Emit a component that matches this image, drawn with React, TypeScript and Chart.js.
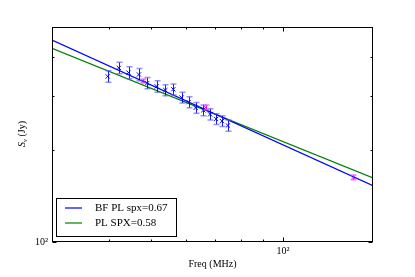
import React, { useEffect, useRef } from 'react';
import { Chart, registerables } from 'chart.js';
Chart.register(...registerables);

// ---- data ----
const blueFreq = [39.7, 42.1, 44.3, 46.8, 48.9, 51.4, 53.8, 56.1, 58.6, 60.8, 63.1, 65.7, 68.1, 70.3, 72.5, 74.8];
const blueFlux = [347, 370, 357, 352, 330, 322, 313, 315, 296, 286, 274, 269, 261, 252, 248, 240];
const blueErr = [15, 16, 16, 16, 14, 14, 13, 13, 12, 12, 11, 11, 11, 10, 10, 10];
const magFreq = [47.9, 66.5, 144.8];
const magFlux = [335, 275, 162.5];
const magErr = [5, 5, 3];
const bfLineFreq = [29.6, 160.7];
const bfLineFlux = [456, 152.6];
const plLineFreq = [29.6, 160.7];
const plLineFlux = [428.3, 161.8];
const xMinorTicks = [40, 50, 60, 70, 80, 90];
const xMajorTicks = [100];
const yMinorTicks = [200, 300, 400];
const yMajorTicks = [100];
const xRange = [29.6, 160.7];
const yRange = [100, 503];
const legendLabels = ['BF PL spx=0.67', 'PL SPX=0.58'];

const SERIF = '"Liberation Serif", "Times New Roman", serif';

const zip = (xs: number[], ys: number[]) => xs.map((x, i) => ({ x, y: ys[i] }));

const framePlugin = {
  id: 'frameTicks',
  afterDatasetsDraw(chart: any) {
    const { ctx, chartArea: a, scales } = chart;
    const xs = scales.x, ys = scales.y;
    ctx.save();
    // error bars
    const drawErr = (fx: number[], fy: number[], fe: number[], line: string, cap: string) => {
      fx.forEach((f, i) => {
        const px = Math.round(xs.getPixelForValue(f)) + 0.5;
        const top = ys.getPixelForValue(fy[i] + fe[i]);
        const bot = ys.getPixelForValue(fy[i] - fe[i]);
        ctx.strokeStyle = line;
        ctx.lineWidth = 1;
        ctx.beginPath();
        ctx.moveTo(px, top);
        ctx.lineTo(px, bot);
        ctx.stroke();
        ctx.strokeStyle = cap;
        ctx.lineWidth = 1.5;
        ctx.beginPath();
        ctx.moveTo(px - 3, top);
        ctx.lineTo(px + 3, top);
        ctx.moveTo(px - 3, bot);
        ctx.lineTo(px + 3, bot);
        ctx.stroke();
      });
    };
    drawErr(blueFreq, blueFlux, blueErr, 'rgba(0,0,230,0.9)', 'rgba(90,90,255,0.65)');
    drawErr(magFreq, magFlux, magErr, 'rgba(230,0,230,0.9)', 'rgba(240,80,240,0.7)');

    // frame
    ctx.strokeStyle = '#000';
    ctx.lineWidth = 1;
    const L = Math.round(a.left) + 0.5, R = Math.round(a.right) - 0.5;
    const T = Math.round(a.top) + 0.5, B = Math.round(a.bottom) - 0.5;
    ctx.strokeRect(L, T, R - L, B - T);
    ctx.beginPath();
    const xt = (vals: number[], len: number) => vals.forEach((v) => {
      const p = Math.round(xs.getPixelForValue(v)) + 0.5;
      ctx.moveTo(p, B); ctx.lineTo(p, B - len);
      ctx.moveTo(p, T); ctx.lineTo(p, T + len);
    });
    const yt = (vals: number[], len: number) => vals.forEach((v) => {
      const p = Math.round(ys.getPixelForValue(v)) + 0.5;
      ctx.moveTo(L, p); ctx.lineTo(L + len, p);
      ctx.moveTo(R, p); ctx.lineTo(R - len, p);
    });
    xt(xMinorTicks, 2); xt(xMajorTicks, 4);
    yt(yMinorTicks, 2); yt(yMajorTicks, 4);
    ctx.stroke();

    // legend
    const lx = 56.5, ly = 198.5, lw = 120, lh = 38;
    ctx.fillStyle = '#fff';
    ctx.fillRect(lx, ly, lw, lh);
    ctx.strokeStyle = '#000';
    ctx.strokeRect(lx, ly, lw, lh);
    const colors = ['#0000ff', '#008000'];
    ctx.font = `11px ${SERIF}`;
    ctx.textBaseline = 'middle';
    ctx.textAlign = 'left';
    legendLabels.forEach((lab, i) => {
      const yy = 208 + i * 15;
      ctx.strokeStyle = colors[i];
      ctx.lineWidth = 1.2;
      ctx.beginPath();
      ctx.moveTo(65, yy);
      ctx.lineTo(82, yy);
      ctx.stroke();
      ctx.fillStyle = '#000';
      ctx.fillText(lab, 95, yy);
    });

    // y title  S_nu (Jy)
    ctx.translate(21, 134);
    ctx.rotate(-Math.PI / 2);
    ctx.fillStyle = '#000';
    const f1 = `italic 10px ${SERIF}`, f2 = `italic 7px ${SERIF}`, f3 = `10px ${SERIF}`;
    ctx.font = f1; const w1 = ctx.measureText('S').width;
    ctx.font = f2; const w2 = ctx.measureText('ν').width;
    ctx.font = f3; const w3 = ctx.measureText(' (Jy)').width;
    let x0 = -(w1 + w2 + w3) / 2;
    ctx.textBaseline = 'alphabetic';
    ctx.font = f1; ctx.fillText('S', x0, 3.5);
    ctx.font = f2; ctx.fillText('ν', x0 + w1, 5.5);
    ctx.font = f3; ctx.fillText(' (Jy)', x0 + w1 + w2, 3.5);
    ctx.restore();
  },
};

export default function App() {
  const ref = useRef<HTMLCanvasElement | null>(null);
  useEffect(() => {
    if (!ref.current) return;
    const chart = new Chart(ref.current, {
      type: 'scatter',
      data: {
        datasets: [
          {
            label: legendLabels[0],
            data: zip(bfLineFreq, bfLineFlux),
            showLine: true,
            borderColor: '#0000ff',
            borderWidth: 1.2,
            pointRadius: 0,
            fill: false,
          },
          {
            label: legendLabels[1],
            data: zip(plLineFreq, plLineFlux),
            showLine: true,
            borderColor: '#008000',
            borderWidth: 1.2,
            pointRadius: 0,
            fill: false,
          },
          {
            label: 'data',
            data: zip(blueFreq, blueFlux),
            pointStyle: 'crossRot',
            pointRadius: 3,
            borderColor: '#0000ff',
            backgroundColor: '#0000ff',
            borderWidth: 1,
          },
          {
            label: 'other',
            data: zip(magFreq, magFlux),
            pointStyle: 'crossRot',
            pointRadius: 2.5,
            borderColor: '#ff00ff',
            backgroundColor: '#ff00ff',
            borderWidth: 1,
          },
        ],
      },
      options: {
        responsive: false,
        animation: false,
        events: [],
        layout: { padding: { top: 27, right: 42, left: 0, bottom: 0 } },
        plugins: { legend: { display: false }, tooltip: { enabled: false } },
        scales: {
          x: {
            type: 'logarithmic',
            min: xRange[0],
            max: xRange[1],
            grid: { display: false, drawTicks: false },
            border: { display: false },
            afterBuildTicks: (s: any) => {
              s.ticks = [...xMinorTicks, ...xMajorTicks].map((v) => ({ value: v }));
            },
            afterFit: (s: any) => { s.height = 35; },
            ticks: {
              padding: 3,
              autoSkip: false,
              maxRotation: 0,
              color: '#000',
              font: { family: SERIF, size: 10 },
              callback: (v: any) => (xMajorTicks.includes(Number(v)) ? '10²' : ''),
            },
            title: {
              display: true,
              text: 'Freq (MHz)',
              color: '#000',
              font: { family: SERIF, size: 10 },
              padding: { top: 0, bottom: 7 },
            },
          },
          y: {
            type: 'logarithmic',
            min: yRange[0],
            max: yRange[1],
            grid: { display: false, drawTicks: false },
            border: { display: false },
            afterBuildTicks: (s: any) => {
              s.ticks = [...yMajorTicks, ...yMinorTicks].map((v) => ({ value: v }));
            },
            afterFit: (s: any) => { s.width = 52; },
            ticks: {
              padding: 4,
              autoSkip: false,
              color: '#000',
              font: { family: SERIF, size: 10 },
              callback: (v: any) => (yMajorTicks.includes(Number(v)) ? '10²' : ''),
            },
          },
        },
      },
      plugins: [framePlugin],
    } as any);
    return () => chart.destroy();
  }, []);
  return (
    <div style={{ position: 'fixed', left: 0, top: 0, width: 415, height: 277, background: '#fff' }}>
      <canvas ref={ref} width={415} height={277} style={{ display: 'block' }} />
    </div>
  );
}
